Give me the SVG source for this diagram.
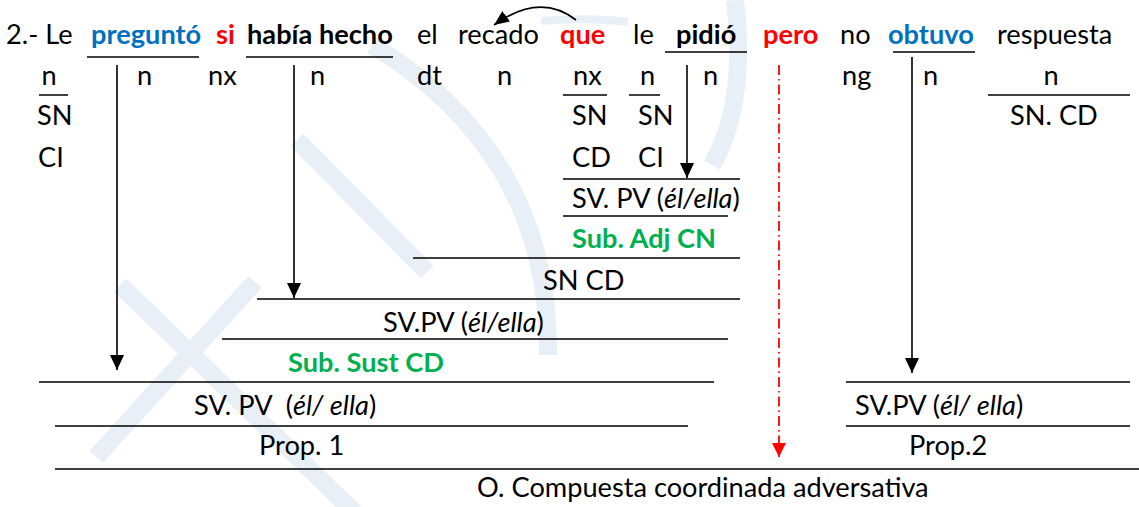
<svg xmlns="http://www.w3.org/2000/svg" width="1139" height="507" viewBox="0 0 1139 507">
<style>
text{font-family:Lato,"Liberation Sans",sans-serif;font-size:27.2px;fill:#000}
.b{font-weight:bold}
.blue{fill:#0070C0;font-weight:bold}
.red{fill:#FF0000;font-weight:bold}
.green{fill:#00B050;font-weight:bold}
.i{font-style:italic}
.m{text-anchor:middle}
.ln{stroke:#000;stroke-width:1.6;fill:none}
.wm{stroke:#E9EFF7;stroke-width:18;fill:none}
.ar{stroke:#000;stroke-width:1.6;fill:none;marker-end:url(#ah)}
</style>
<defs>
<marker id="ah" viewBox="0 0 15 14" refX="15" refY="7" markerWidth="15" markerHeight="14" markerUnits="userSpaceOnUse" orient="auto"><path d="M0,0 L15,7 L0,14 z" fill="#000"/></marker>
<marker id="ahr" viewBox="0 0 14 14" refX="14" refY="7" markerWidth="14" markerHeight="14" markerUnits="userSpaceOnUse" orient="auto"><path d="M0,0 L14,7 L0,14 z" fill="#FF0000"/></marker>
<marker id="ahc" viewBox="0 0 15 13" refX="15" refY="6.5" markerWidth="15" markerHeight="13" markerUnits="userSpaceOnUse" orient="auto"><path d="M0,0 L15,6.5 L0,13 z" fill="#000"/></marker>
</defs>
<rect width="1139" height="507" fill="#fff"/>
<g id="watermark">
<path class="wm" d="M120,285 L355,513"/>
<path class="wm" d="M255,282 L96,457"/>
<path class="wm" d="M297,140 L427,272"/>
<path class="wm" d="M372,45 C480,110 550,210 548,355"/>
<path class="wm" d="M735,0 C742,60 738,120 712,165"/>
<path class="wm" style="stroke-width:8" d="M541,21 Q590,17 628,22"/>
</g>
<g id="sentence">
<text x="6" y="44">2.- Le</text>
<text x="91" y="44" class="blue">preguntó</text>
<text x="216" y="44" class="red">si</text>
<text x="247" y="44" class="b">había hecho</text>
<text x="417" y="44">el</text>
<text x="458" y="44">recado</text>
<text x="560" y="44" class="red">que</text>
<text x="633" y="44">le</text>
<text x="676" y="44" class="b">pidió</text>
<text x="763" y="44" class="red">pero</text>
<text x="840" y="44">no</text>
<text x="888" y="44" class="blue">obtuvo</text>
<text x="997" y="44">respuesta</text>
</g>
<g id="categories">
<text x="49" y="85" class="m">n</text>
<text x="137" y="85">n</text>
<text x="208" y="85">nx</text>
<text x="310" y="85">n</text>
<text x="417" y="85">dt</text>
<text x="497" y="85">n</text>
<text x="573" y="85">nx</text>
<text x="640" y="85">n</text>
<text x="703" y="85">n</text>
<text x="842" y="85">ng</text>
<text x="923" y="85">n</text>
<text x="1051" y="85" class="m">n</text>
</g>
<g id="functions">
<text x="37" y="125">SN</text>
<text x="38" y="167">CI</text>
<text x="572" y="125">SN</text>
<text x="572" y="167">CD</text>
<text x="638" y="125">SN</text>
<text x="638" y="167">CI</text>
<text x="1010" y="125">SN. CD</text>
</g>
<g id="sub-adj">
<text x="572" y="208">SV. PV (<tspan class="i">él/ella</tspan>)</text>
<text x="572" y="248" class="green">Sub. Adj CN</text>
</g>
<g id="sn-cd">
<text x="543" y="290">SN CD</text>
</g>
<g id="sub-sust">
<text x="383" y="332">SV.PV (<tspan class="i">él/ella</tspan>)</text>
<text x="288" y="372" class="green">Sub. Sust CD</text>
</g>
<g id="prop1">
<text x="194" y="415">SV. PV <tspan dx="7">(</tspan><tspan class="i">él/ ella</tspan>)</text>
<text x="259" y="455">Prop. 1</text>
</g>
<g id="prop2">
<text x="855" y="415">SV.PV (<tspan class="i">él/ ella</tspan>)</text>
<text x="909" y="455">Prop.2</text>
</g>
<g id="oracion">
<text x="477" y="497">O. Compuesta coordinada adversativa</text>
</g>
<g id="connectors">
<path class="ln" d="M87,57 H199 M246,57 H393 M665,52 H747 M893,52 H975"/>
<path class="ln" d="M39,95 H68 M563,95 H607 M629,95 H660 M988,95 H1130"/>
<path class="ln" d="M563,179 H740 M563,216 H728 M413,258 H740 M257,299 H740 M222,339 H728"/>
<path class="ln" d="M39,382 H714 M846,382 H1130 M55,426 H688 M846,426 H1130 M55,469 H1139"/>
<path class="ar" d="M117,65 V370"/>
<path class="ar" d="M294,65 V298"/>
<path class="ar" d="M687,65 V178"/>
<path class="ar" d="M912,57 V373"/>
<path d="M779,65 V457" stroke="#FF0000" stroke-width="1.8" fill="none" stroke-dasharray="10 4 1.5 4" marker-end="url(#ahr)"/>
<path d="M576,20 Q540,-8 494,25" stroke="#000" stroke-width="1.6" fill="none" marker-end="url(#ahc)"/>
</g>
</svg>
